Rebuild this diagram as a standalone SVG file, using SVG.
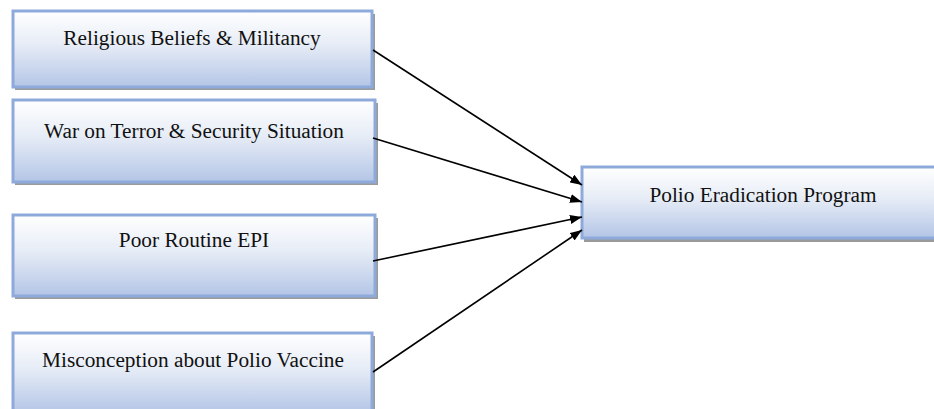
<svg xmlns="http://www.w3.org/2000/svg" width="934" height="409" viewBox="0 0 934 409">
<style>
.box{fill:url(#g);stroke:#8eaadb;stroke-width:3}
.sh{fill:#9a9a9a}
.t{font-family:"Liberation Serif","Times New Roman",serif;font-size:21.3px;fill:#111;text-anchor:middle}
.c{stroke:#000;stroke-width:1.6;fill:none;marker-end:url(#a)}
</style>
<defs>
<linearGradient id="g" x1="0" y1="0" x2="0" y2="1">
<stop offset="0" stop-color="#ffffff"/>
<stop offset="0.45" stop-color="#e6ecf6"/>
<stop offset="1" stop-color="#b3c5e6"/>
</linearGradient>
<marker id="a" markerWidth="12" markerHeight="9" refX="12" refY="4.5" orient="auto" markerUnits="userSpaceOnUse" viewBox="0 0 12 9">
<path d="M0,0 L12,4.5 L0,9 z" fill="#000"/>
</marker>
</defs>
<g id="n1">
<rect class="sh" x="15" y="14" width="360" height="76"/>
<rect class="box" x="13" y="11" width="359" height="76"/>
<text class="t" x="192" y="45">Religious Beliefs &amp; Militancy</text>
</g>
<g id="n2">
<rect class="sh" x="15" y="103" width="363" height="82"/>
<rect class="box" x="13" y="100" width="362" height="82"/>
<text class="t" x="194" y="138">War on Terror &amp; Security Situation</text>
</g>
<g id="n3">
<rect class="sh" x="15" y="218" width="363" height="81"/>
<rect class="box" x="13" y="215" width="362" height="81"/>
<text class="t" x="194" y="247">Poor Routine EPI</text>
</g>
<g id="n4">
<rect class="sh" x="15" y="336" width="360" height="80"/>
<rect class="box" x="13" y="333" width="359" height="80"/>
<text class="t" x="193" y="367">Misconception about Polio Vaccine</text>
</g>
<g id="n5">
<rect class="sh" x="584" y="170" width="360" height="72"/>
<rect class="box" x="582" y="167" width="360" height="71"/>
<text class="t" x="763" y="202">Polio Eradication Program</text>
</g>
<g id="connectors">
<line class="c" x1="373" y1="50" x2="582" y2="185"/>
<line class="c" x1="373" y1="138" x2="582" y2="202"/>
<line class="c" x1="373" y1="261" x2="582" y2="217"/>
<line class="c" x1="373" y1="372" x2="582" y2="230"/>
</g>
</svg>
